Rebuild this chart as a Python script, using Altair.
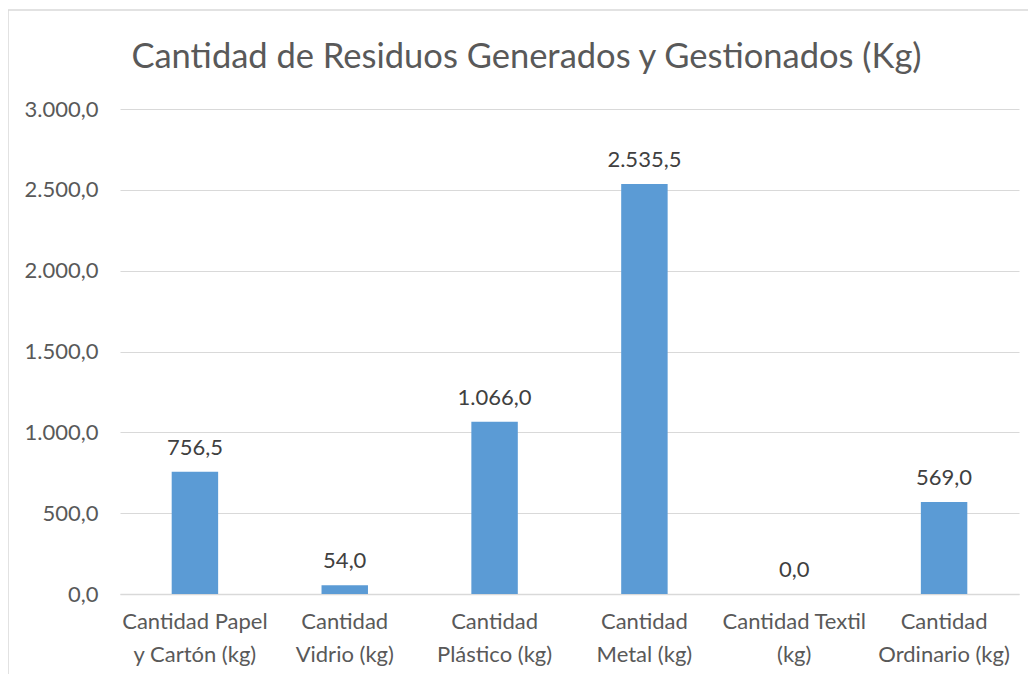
import altair as alt
import pandas as pd

categories = [
    "Cantidad Papel\ny Cartón (kg)",
    "Cantidad\nVidrio (kg)",
    "Cantidad\nPlástico (kg)",
    "Cantidad\nMetal (kg)",
    "Cantidad Textil\n(kg)",
    "Cantidad\nOrdinario (kg)",
]
values = [756.5, 54.0, 1066.0, 2535.5, 0.0, 569.0]
y_ticks = [0, 500, 1000, 1500, 2000, 2500, 3000]

df = pd.DataFrame({"cat": categories, "val": values})

FONT = "Lato"
TXT = "#595959"
GRID = "#d9d9d9"

es_fmt = "replace(replace(replace(format({v}, ',.1f'), ',', '_'), '.', ','), '_', '.')"

x_enc = alt.X(
    "cat:N",
    sort=categories,
    title=None,
    scale=alt.Scale(paddingInner=0.69, paddingOuter=0.345),
    axis=alt.Axis(
        labelExpr="split(datum.label, '\\n')",
        labelAngle=0,
        labelFontSize=22,
        labelFont=FONT,
        labelColor=TXT,
        labelLineHeight=33,
        labelPadding=17,
        ticks=False,
        domainColor=GRID,
        domainWidth=1.5,
        grid=False,
    ),
)

y_enc = alt.Y(
    "val:Q",
    title=None,
    scale=alt.Scale(domain=[0, 3000]),
    axis=alt.Axis(
        values=y_ticks,
        labelExpr=es_fmt.format(v="datum.value"),
        labelFontSize=22,
        labelFont=FONT,
        labelColor=TXT,
        labelPadding=22,
        ticks=False,
        domain=False,
        gridColor=GRID,
        gridWidth=1.2,
    ),
)

bars = alt.Chart(df).mark_bar(color="#5B9BD5").encode(x=x_enc, y=y_enc)

labels = (
    alt.Chart(df)
    .transform_calculate(lbl=es_fmt.format(v="datum.val"))
    .mark_text(dy=-17, baseline="alphabetic", fontSize=22, font=FONT, color="#404040")
    .encode(x=alt.X("cat:N", sort=categories), y="val:Q", text="lbl:N")
)

frame = alt.Chart(pd.DataFrame({"a": [0]})).mark_rect(
    fill=None, stroke=GRID, strokeWidth=1.5
).encode(
    x=alt.value(-112), x2=alt.value(1100), y=alt.value(-99), y2=alt.value(700)
)

chart = (
    alt.layer(frame, bars, labels)
    .properties(
        width=899,
        height=485,
        autosize=alt.AutoSizeParams(type="none"),
        padding={"left": 112, "top": 101, "right": 9, "bottom": 80},
        title=alt.Title(
            "Cantidad de Residuos Generados y Gestionados (Kg)",
            font=FONT,
            fontSize=34.5,
            fontWeight="normal",
            color=TXT,
            anchor="middle",
            dx=-43,
            offset=-93,
            baseline="alphabetic",
        ),
    )
    .configure_view(stroke=None)
)

chart.save("out.html", embed_options={"renderer": "svg", "actions": False})
